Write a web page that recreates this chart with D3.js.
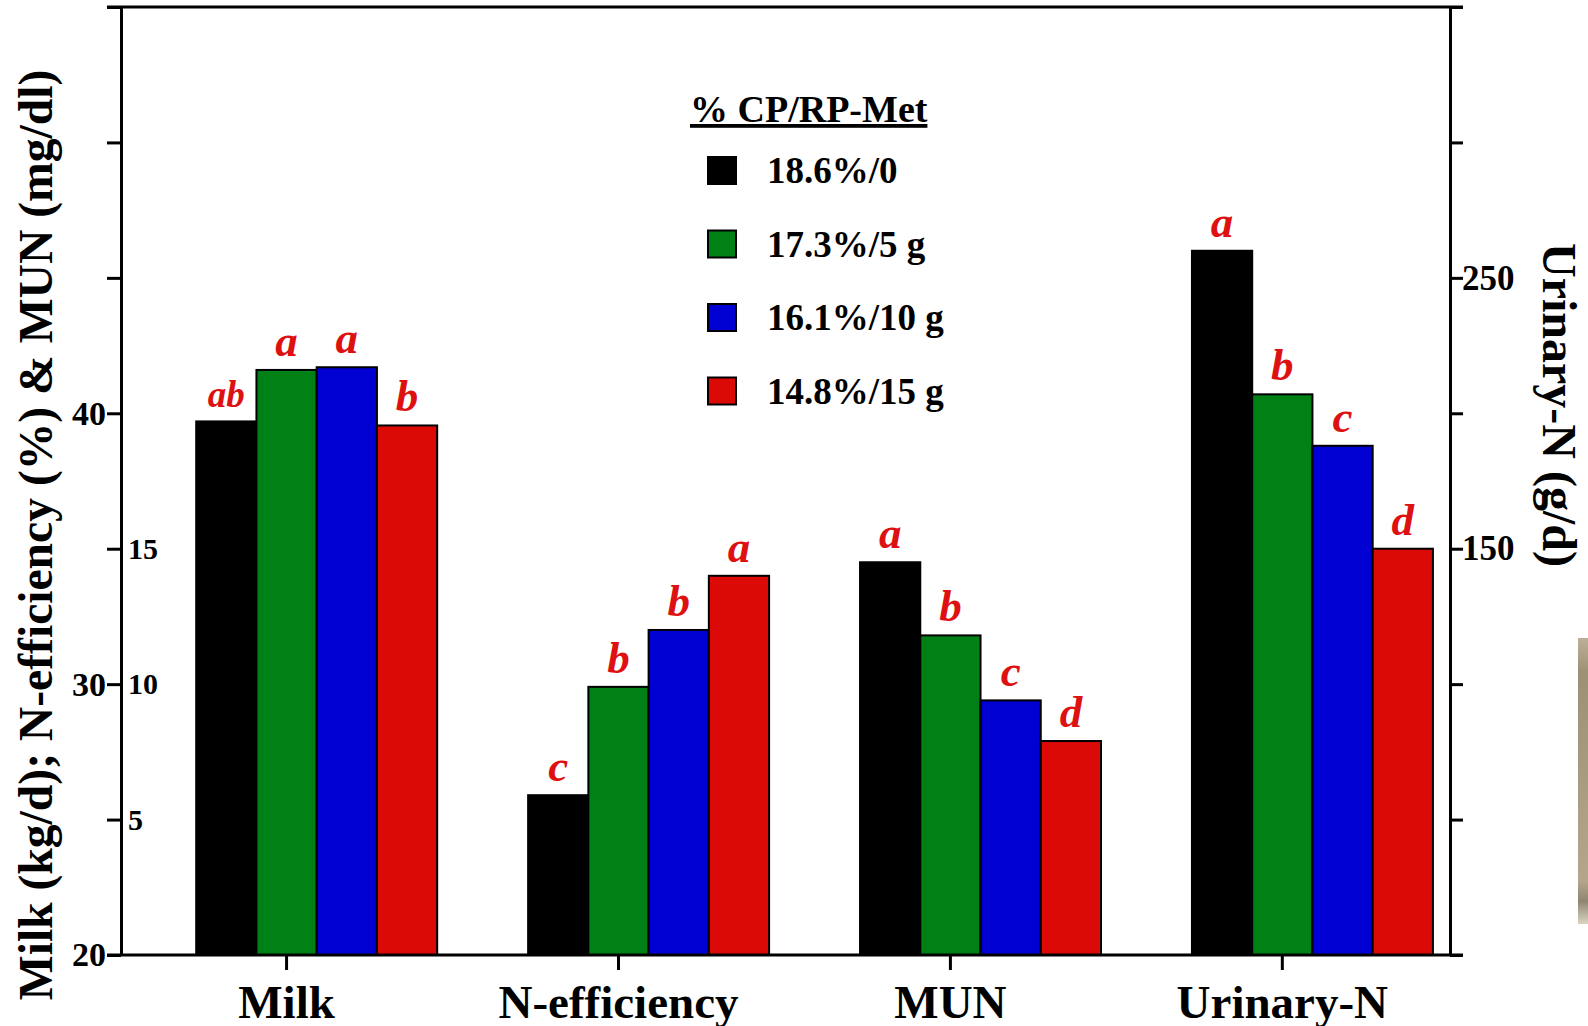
<!DOCTYPE html>
<html>
<head>
<meta charset="utf-8">
<script src="https://cdn.jsdelivr.net/npm/d3@7"></script>
<style>
  body { margin: 0; background: #fff; }
  svg text { font-family: "Liberation Serif", "Times New Roman", serif; font-weight: bold; }
</style>
</head>
<body>
<div id="chart"></div>
<script>
// DATA
var categories = ["Milk", "N-efficiency", "MUN", "Urinary-N"];
var series = ["18.6%/0", "17.3%/5 g", "16.1%/10 g", "14.8%/15 g"];
var series_color = ["#000000", "#008015", "#0000d2", "#dc0a06"];

var milk_values = [39.7, 41.6, 41.7, 39.55];      // kg/d, left outer scale
var neff_values = [5.9, 9.9, 12.0, 14.0];         // %, left inner scale
var mun_values = [14.5, 11.8, 9.4, 7.9];          // mg/dl, left inner scale
var urinary_values = [260, 207, 188, 150];        // g/d, right scale

var milk_letters = ["ab", "a", "a", "b"];
var neff_letters = ["c", "b", "b", "a"];
var mun_letters = ["a", "b", "c", "d"];
var urinary_letters = ["a", "b", "c", "d"];

var milk_ticks = [20, 30, 40];
var pct_ticks = [5, 10, 15];
var urinary_ticks = [150, 250];

// LAYOUT
var width = 1588;
var height = 1026;
var x_left = 121;
var x_right = 1450;
var y_top = 7;
var y_bottom = 955;

var svg = d3.select("#chart").append("svg")
  .attr("width", width)
  .attr("height", height);

var x = d3.scaleBand()
  .domain(categories)
  .range([x_left, x_right])
  .paddingInner(0.274)
  .paddingOuter(0.139)
  .align(0.815);

var xs = d3.scaleBand()
  .domain(series)
  .range([0, x.bandwidth()]);

var y_milk = d3.scaleLinear().domain([20, 55]).range([y_bottom, y_top]);
var y_pct = d3.scaleLinear().domain([0, 35]).range([y_bottom, y_top]);
var y_urine = d3.scaleLinear().domain([0, 350]).range([y_bottom, y_top]);

var groups = [
  {cat: "Milk", values: milk_values, letters: milk_letters, y: y_milk},
  {cat: "N-efficiency", values: neff_values, letters: neff_letters, y: y_pct},
  {cat: "MUN", values: mun_values, letters: mun_letters, y: y_pct},
  {cat: "Urinary-N", values: urinary_values, letters: urinary_letters, y: y_urine}
];

// little piece of photo at the right edge
var grad = svg.append("defs").append("linearGradient")
  .attr("id", "edge").attr("x1", 0).attr("x2", 0).attr("y1", 0).attr("y2", 1);
grad.append("stop").attr("offset", "0").attr("stop-color", "#bdb09a");
grad.append("stop").attr("offset", "0.12").attr("stop-color", "#9c9174");
grad.append("stop").attr("offset", "0.85").attr("stop-color", "#b3a68c");
grad.append("stop").attr("offset", "0.92").attr("stop-color", "#8f8672");
grad.append("stop").attr("offset", "1").attr("stop-color", "#d9d6c2");
svg.append("rect")
  .attr("x", 1578).attr("y", 638).attr("width", 10).attr("height", 286)
  .attr("fill", "url(#edge)");

// BARS
var group_g = svg.selectAll(".group")
  .data(groups)
  .enter().append("g")
    .attr("class", "group")
    .attr("transform", function(g) {return "translate(" + x(g.cat) + ",0)";});

group_g.selectAll("rect")
  .data(function(g) {
    return g.values.map(function(v, i) {return {s: series[i], i: i, v: v, y: g.y};});
  })
  .enter().append("rect")
    .attr("x", function(d) {return xs(d.s);})
    .attr("y", function(d) {return d.y(d.v);})
    .attr("width", xs.bandwidth())
    .attr("height", function(d) {return y_bottom - d.y(d.v);})
    .attr("fill", function(d) {return series_color[d.i];})
    .attr("stroke", "#000")
    .attr("stroke-width", 2);

group_g.selectAll(".letter")
  .data(function(g) {
    return g.values.map(function(v, i) {return {s: series[i], v: v, y: g.y, t: g.letters[i]};});
  })
  .enter().append("text")
    .attr("class", "letter")
    .attr("x", function(d) {return xs(d.s) + xs.bandwidth() / 2;})
    .attr("y", function(d) {return d.y(d.v) - 14;})
    .attr("text-anchor", "middle")
    .attr("fill", "#dd1111")
    .attr("font-style", "italic")
    .attr("font-size", function(d) {return d.t.length > 1 ? 37 : 45;})
    .text(function(d) {return d.t;});

// AXES
function style_axis(g, size) {
  g.attr("font-family", null).attr("font-size", size);
  g.selectAll("line").attr("stroke", "#000").attr("stroke-width", 3);
  g.selectAll(".domain").attr("stroke", "#000").attr("stroke-width", 3);
  g.selectAll("text").attr("fill", "#000");
}

var left_axis = svg.append("g")
  .attr("transform", "translate(" + x_left + ",0)")
  .call(d3.axisLeft(y_milk)
    .tickValues(d3.range(20, 56, 5))
    .tickSize(14).tickSizeOuter(0).tickPadding(1)
    .tickFormat(function(d) {return milk_ticks.indexOf(d) >= 0 ? d : "";}));
style_axis(left_axis, 34);

var inner_axis = svg.append("g")
  .attr("transform", "translate(" + x_left + ",0)")
  .call(d3.axisRight(y_pct).tickValues(pct_ticks).tickSize(0).tickPadding(7));
inner_axis.select(".domain").remove();
style_axis(inner_axis, 30);

var right_axis = svg.append("g")
  .attr("transform", "translate(" + x_right + ",0)")
  .call(d3.axisRight(y_urine)
    .tickValues(d3.range(0, 351, 50))
    .tickSize(13).tickSizeOuter(0).tickPadding(-1)
    .tickFormat(function(d) {return urinary_ticks.indexOf(d) >= 0 ? d : "";}));
style_axis(right_axis, 35);

// bottom axis: ticks sit under the middle of the first three bars
var bottom_axis = svg.append("g")
  .attr("transform", "translate(" + (-xs.bandwidth() / 2) + "," + y_bottom + ")")
  .call(d3.axisBottom(x).tickSize(15).tickPadding(28));
bottom_axis.select(".domain").remove();
style_axis(bottom_axis, 47);
bottom_axis.selectAll("text").attr("dy", "0.71em").attr("y", 30);

// frame lines top and bottom
svg.append("line")
  .attr("x1", 107).attr("x2", 1463)
  .attr("y1", y_bottom).attr("y2", y_bottom)
  .attr("stroke", "#000").attr("stroke-width", 3);
svg.append("line")
  .attr("x1", 107).attr("x2", 1463)
  .attr("y1", y_top).attr("y2", y_top)
  .attr("stroke", "#000").attr("stroke-width", 3);

// AXIS TITLES
svg.append("text")
  .attr("transform", "translate(52,535) rotate(-90)")
  .attr("text-anchor", "middle")
  .attr("font-size", 47.6)
  .text("Milk (kg/d); N-efficiency (%) & MUN (mg/dl)");

svg.append("text")
  .attr("transform", "translate(1543,405) rotate(90)")
  .attr("text-anchor", "middle")
  .attr("font-size", 48)
  .text("Urinary-N (g/d)");

// LEGEND
var legend = svg.append("g").attr("class", "legend");

legend.append("text")
  .attr("x", 690).attr("y", 122)
  .attr("font-size", 38)
  .attr("text-decoration", "underline")
  .text("% CP/RP-Met");

var items = legend.selectAll(".item")
  .data(series)
  .enter().append("g")
    .attr("class", "item")
    .attr("transform", function(s, i) {return "translate(0," + (183 + i * 73.5) + ")";});

items.append("rect")
  .attr("x", 708).attr("y", -26)
  .attr("width", 28).attr("height", 27)
  .attr("fill", function(s, i) {return series_color[i];})
  .attr("stroke", "#000").attr("stroke-width", 2);

items.append("text")
  .attr("x", 767).attr("y", 0)
  .attr("font-size", 37)
  .text(function(s) {return s;});
</script>
</body>
</html>
